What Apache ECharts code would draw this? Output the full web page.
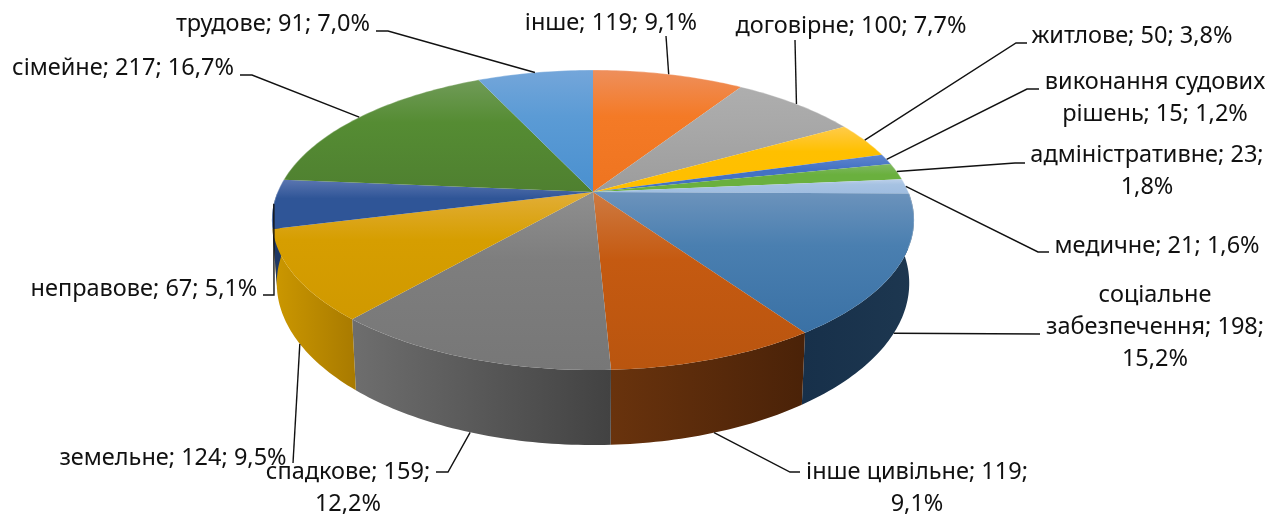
<!DOCTYPE html>
<html>
<head>
<meta charset="utf-8">
<style>
  html, body { margin: 0; padding: 0; background: #fff; }
  #chart { width: 1283px; height: 515px; }
</style>
<script src="https://cdn.jsdelivr.net/npm/echarts@6/dist/echarts.min.js"></script>
</head>
<body>
<div id="chart"></div>
<script>
// slices run clockwise from 12 o'clock
const categories = ["інше", "договірне", "житлове", "виконання судових рішень", "адміністративне", "медичне", "соціальне забезпечення", "інше цивільне", "спадкове", "земельне", "неправове", "сімейне", "трудове"]
const values = [119, 100, 50, 15, 23, 21, 198, 119, 159, 124, 67, 217, 91]
const labelTexts = [
  "інше; 119; 9,1%",
  "договірне; 100; 7,7%",
  "житлове; 50; 3,8%",
  "виконання судових\nрішень; 15; 1,2%",
  "адміністративне; 23;\n1,8%",
  "медичне; 21; 1,6%",
  "соціальне\nзабезпечення; 198;\n15,2%",
  "інше цивільне; 119;\n9,1%",
  "спадкове; 159;\n12,2%",
  "земельне; 124; 9,5%",
  "неправове; 67; 5,1%",
  "сімейне; 217; 16,7%",
  "трудове; 91; 7,0%",
]

// label centres and leader elbows, in page pixels
const labelCenters = [[611, 23], [851, 26], [1132, 36], [1155, 98], [1147, 171], [1157, 246], [1155, 327], [917, 488], [348, 488], [173, 458], [144, 289], [123, 68], [273, 24]]
const leaderElbows = [
  [[666, 36]],
  [[795, 40]],
  [[1027, 43], [1016, 43]],
  [[1039, 89], [1027, 89]],
  [[1025, 163], [1015, 163]],
  [[1049, 252], [1038, 252]],
  [[1040, 334]],
  [[800, 472], [790, 472]],
  [[436, 472], [448, 472]],
  [[293, 463]],
  [[263, 295], [274, 295]],
  [[240, 75], [252, 75]],
  [[376, 31], [388, 31]],
]

// top face: light edge, base, lower tone
const topColors = [
  ["#EE8F5C", "#F47A26", "#EE7420"],
  ["#AEAEAE", "#A8A8A8", "#9C9C9C"],
  ["#FFCB4A", "#FFC000", "#FFBE00"],
  ["#5F86CE", "#4472C4", "#4472C4"],
  ["#80B862", "#6AB03E", "#6AB03E"],
  ["#BCD0EA", "#A6C2E2", "#9FBDE0"],
  ["#6C93BC", "#4A7FB0", "#3A71A5"],
  ["#CE7A42", "#C55A11", "#B9550F"],
  ["#8F8F8F", "#7E7E7E", "#777777"],
  ["#E2AE38", "#D69E00", "#D09900"],
  ["#5A75B0", "#2F5597", "#2F5597"],
  ["#709B58", "#558C33", "#4F8030"],
  ["#74A6DA", "#5B9BD5", "#4A90CF"],
]
// side wall: left, right
const wallColors = {
  6: ["#17304A", "#1D3750"],
  7: ["#69330D", "#4A2208"],
  8: ["#6E6E6E", "#424242"],
  9: ["#CC9800", "#A87A00"],
  10: ["#1F3864", "#1F3864"],
}
// slices whose front edge meets a wall get no pale rim
const noRim = [7, 8, 9]

// perspective circle
const cx = 593, cy = 192, rx = 315.4, ry = 144.8, persp = 0.1867, wallH = 61, wallShrink = 0.985

const total = values.reduce((a, b) => a + b, 0)
const starts = []
values.reduce((sum, v, i) => { starts[i] = sum; return sum + v }, 0)
const toAngle = (v) => (v / total) * 2 * Math.PI
const deg = Math.PI / 180

// the drawn pie is not an exact projection: the near left part sits about a degree back
function warp(t) {
  if (t <= 145 * deg || t >= 275 * deg) return t
  return t - 1.2 * deg * Math.sin(((t - 145 * deg) / (130 * deg)) * Math.PI)
}

function rimPoint(t) {
  const w = warp(t)
  const depth = -Math.cos(w)
  const f = 1 / (1 - persp * depth)
  return [cx + rx * Math.sin(w) * f, cy + ry * depth * f]
}

function basePoint(t) {
  const depth = -Math.cos(warp(t))
  const p = rimPoint(t)
  return [cx + (p[0] - cx) * wallShrink, p[1] + wallH / (1 - persp * depth)]
}

function arc(from, to) {
  const pts = []
  const n = Math.max(2, Math.ceil((to - from) / deg))
  for (let i = 0; i <= n; i++) pts.push(from + ((to - from) * i) / n)
  return pts
}

const sliceRange = (i, v) => [toAngle(starts[i]), toAngle(starts[i] + v)]

function renderWall(params, api) {
  const i = params.dataIndex
  const [a0, a1] = sliceRange(i, api.value(0))
  // only the near half of the wall can be seen
  const from = Math.max(a0, Math.PI / 2)
  const to = Math.min(a1, (3 * Math.PI) / 2)
  if (to <= from || !wallColors[i]) return null
  const ts = arc(from, to)
  const points = ts.map(rimPoint).concat(ts.slice().reverse().map(basePoint))
  return {
    type: "polygon",
    shape: { points },
    style: {
      fill: new echarts.graphic.LinearGradient(0, 0, 1, 0, [
        { offset: 0, color: wallColors[i][0] },
        { offset: 1, color: wallColors[i][1] },
      ]),
    },
  }
}

function renderTop(params, api) {
  const i = params.dataIndex
  const [a0, a1] = sliceRange(i, api.value(0))
  const rim = arc(a0, a1).map(rimPoint)
  const children = [
    {
      type: "polygon",
      shape: { points: [[cx, cy]].concat(rim) },
      style: {
        fill: new echarts.graphic.LinearGradient(0, 0, 0, 1, [
          { offset: 0, color: topColors[i][0] },
          { offset: 0.38, color: topColors[i][1] },
          { offset: 1, color: topColors[i][2] },
        ]),
      },
    },
  ]
  if (!noRim.includes(i)) {
    children.push({
      type: "polyline",
      shape: { points: rim.filter((p) => i !== 6 || p[1] < 250) },
      style: { fill: null, stroke: "rgba(255,255,255,0.3)", lineWidth: 1.2 },
    })
  }
  return { type: "group", children }
}

function renderLabel(params, api) {
  const i = params.dataIndex
  const [a0, a1] = sliceRange(i, api.value(0))
  const mid = (a0 + a1) / 2
  // near slices take the leader to the foot of the wall
  const end = -Math.cos(mid) > 0.2 ? basePoint(mid) : rimPoint(mid)
  return {
    type: "group",
    children: [
      {
        type: "polyline",
        shape: { points: leaderElbows[i].concat([end]) },
        style: { fill: null, stroke: "#111", lineWidth: 1.4 },
      },
      {
        type: "text",
        style: {
          x: labelCenters[i][0],
          y: labelCenters[i][1],
          text: labelTexts[i],
          align: "center",
          verticalAlign: "middle",
          fontFamily: "Noto Sans",
          fontSize: 23.5,
          lineHeight: 32,
          fill: "#111",
        },
      },
    ],
  }
}

const chart = echarts.init(document.getElementById("chart"))
const seriesData = values.map((v, i) => ({ name: categories[i], value: [v] }))

chart.setOption({
  animation: false,
  series: [
    { type: "custom", coordinateSystem: "none", z: 1, silent: true, data: seriesData, renderItem: renderWall },
    { type: "custom", coordinateSystem: "none", z: 2, silent: true, data: seriesData, renderItem: renderTop },
    { type: "custom", coordinateSystem: "none", z: 3, silent: true, data: seriesData, renderItem: renderLabel },
  ],
})

window.addEventListener("resize", () => chart.resize())
</script>
</body>
</html>
